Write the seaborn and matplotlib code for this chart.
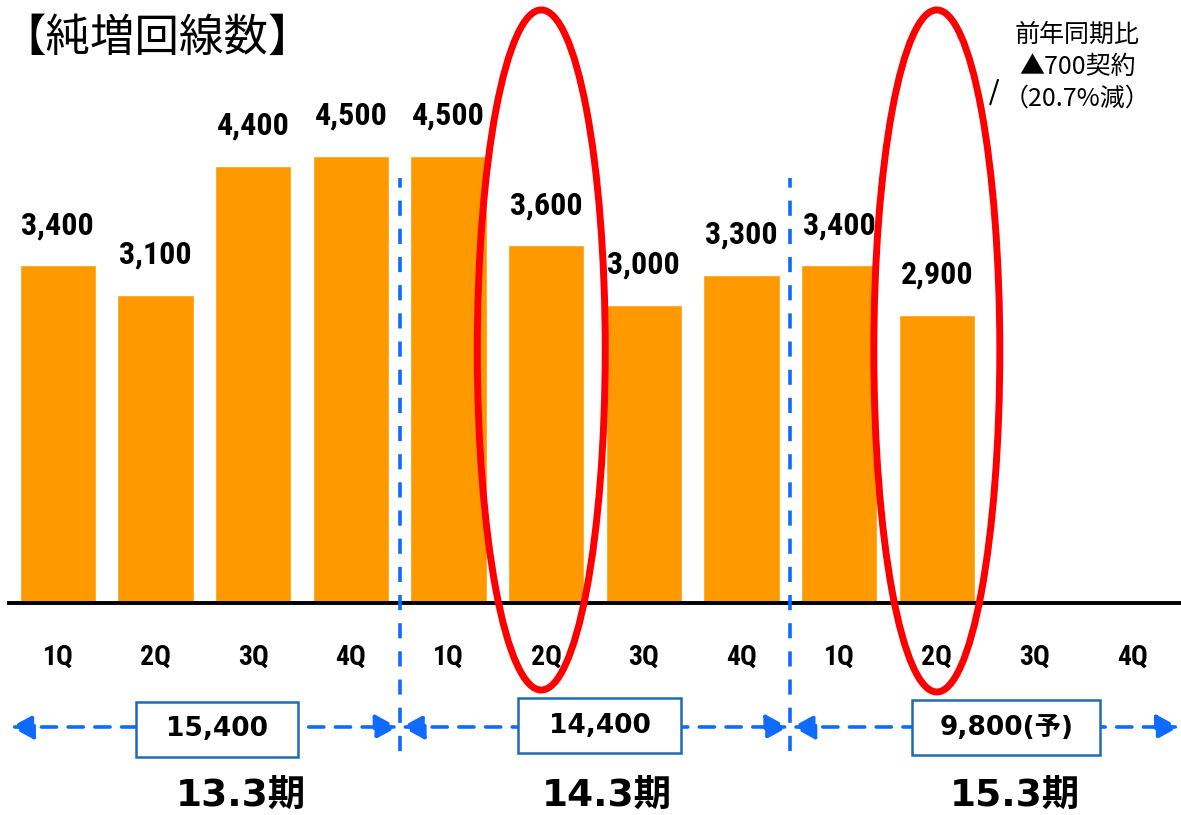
import numpy as np
import pandas as pd
import seaborn as sns
import matplotlib.pyplot as plt
from matplotlib import transforms
from matplotlib.patches import Ellipse, Rectangle

# データ
quarters = ["1Q", "2Q", "3Q", "4Q"] * 3
periods = ["13.3期", "14.3期", "15.3期"]
values = [3400, 3100, 4400, 4500, 4500, 3600, 3000, 3300, 3400, 2900, np.nan, np.nan]
period_totals = ["15,400", "14,400", "9,800(予)"]
note_text = "前年同期比\n▲700契約\n（20.7%減）"

slots = [f"{p}-{q}" for p in periods for q in ["1Q", "2Q", "3Q", "4Q"]]
tabela = pd.DataFrame({"slot": slots, "value": values})

sns.set_style("white")
cjk = ["Noto Sans CJK JP", "DejaVu Sans"]
lat = ["DejaVu Sans", "Noto Sans CJK JP"]
narrow = ["Roboto Condensed", "Roboto", "DejaVu Sans"]
plt.rcParams["font.family"] = cjk
plt.rcParams["text.color"] = "black"
plt.rcParams["xtick.labelcolor"] = "black"

ORANGE = "#FF9900"
BLUE = "#0F6BFF"
BOXBLUE = "#1F6AB0"
RED = "#FF0000"

fig = plt.figure(figsize=(11.81, 8.15), dpi=100)
ax = fig.add_axes([0.0076, 0.2601, 0.9924, 0.7399])

sns.barplot(data=tabela, x="slot", y="value", order=slots, color=ORANGE,
            saturation=1, width=0.78, ax=ax)
ax.set_xlim(-0.5, 11.5)
ax.set_ylim(0, 6072)
ax.set_xlabel("")
ax.set_ylabel("")
ax.set_yticks([])

for s in ["top", "left", "right"]:
    ax.spines[s].set_visible(False)
ax.spines["bottom"].set_linewidth(2.8)
ax.spines["bottom"].set_color("black")

ax.set_xticks(range(12))
ax.set_xticklabels(quarters, fontsize=20, fontweight="bold", family=narrow,
                   color="black")
ax.tick_params(axis="x", which="major", length=0, pad=29)
ax.set_xticks(np.arange(-0.5, 12, 1), minor=True)
ax.tick_params(axis="x", which="minor", direction="in", length=7, width=1, color="black")

# 値ラベル
for i, v in enumerate(values):
    if np.isnan(v):
        continue
    ax.annotate(f"{int(v):,}", (i, v), xytext=(0, 29), textcoords="offset points",
                ha="center", va="center", fontsize=23, fontweight="bold",
                family=narrow, color="black")

bt = transforms.blended_transform_factory(ax.transData, fig.transFigure)

# 期の区切り
for xv in [3.5, 7.5]:
    ax.plot([xv, xv], [0.078, 0.782], transform=bt, color=BLUE, lw=2.6,
            ls=(0, (4.2, 3.6)), clip_on=False, zorder=3)

# 期ごとの矢印・合計・期ラベル
spans = [(-0.5, 3.5), (3.5, 7.5), (7.5, 11.5)]
box_x = [1.63, 5.55, 9.71]
box_w = [1.66, 1.67, 1.93]
box_y = [0.0712, 0.0760, 0.0736]
label_x = [1.87, 5.62, 9.80]
for (x0, x1), bx, bw, by, tot, per, lx in zip(spans, box_x, box_w, box_y,
                                              period_totals, periods, label_x):
    ax.annotate("", xy=(x1 - 0.02, 0.108), xytext=(x0 + 0.02, 0.108),
                xycoords=bt, textcoords=bt,
                arrowprops=dict(arrowstyle="<|-|>,head_length=0.7,head_width=0.38",
                                color=BLUE, lw=2.6, ls=(0, (4.2, 3.2)),
                                mutation_scale=20, shrinkA=0, shrinkB=0),
                annotation_clip=False, zorder=3)
    ax.add_patch(Rectangle((bx - bw / 2, by), bw, 0.0675, transform=bt,
                           facecolor="white", edgecolor=BOXBLUE, lw=1.8,
                           clip_on=False, zorder=4))
    ax.text(bx, by + 0.0675 / 2, tot, transform=bt, ha="center", va="center",
            fontsize=19, fontweight="bold", family=lat, color="black", zorder=5)
    ax.text(lx, 0.022, per, transform=bt, ha="center", va="center",
            fontsize=27, fontweight="bold", family=lat, color="black")

# 赤い楕円
for cx, cy, w, h in [(4.95, 2548, 1.31, 6848), (9.0, 2538, 1.29, 6868)]:
    ax.add_patch(Ellipse((cx, cy), w, h, fill=False, edgecolor=RED, lw=5,
                         clip_on=False, zorder=6))

# タイトルと注記
fig.text(0.001, 0.953, "【純増回線数】", ha="left", va="center", fontsize=32,
         family=cjk, color="black")
fig.text(0.912, 0.918, note_text, ha="center", va="center", fontsize=18,
         linespacing=1.3, family=cjk, color="black")
fig.add_artist(plt.Line2D([0.8385, 0.845], [0.872, 0.902], color="black", lw=1.5))

fig.savefig("out.png", dpi=100)
